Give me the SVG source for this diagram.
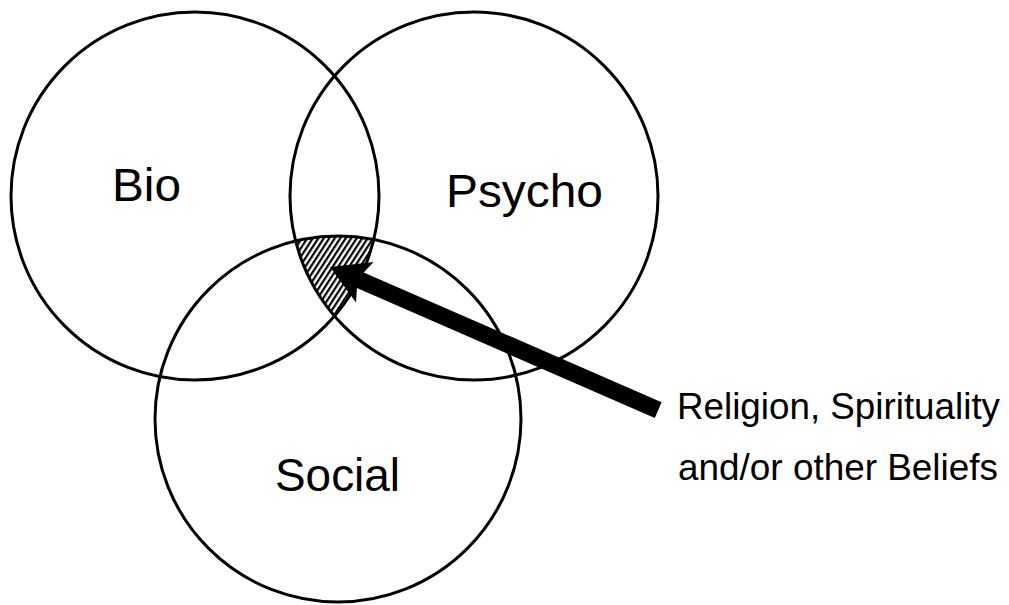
<svg xmlns="http://www.w3.org/2000/svg" width="1009" height="605" viewBox="0 0 1009 605">
  <style>
    .ring { fill: none; stroke: #000; stroke-width: 3; }
    .label { font-family: "Liberation Sans", Arial, sans-serif; fill: #000; }
    .big { font-size: 47px; }
    .note { font-size: 36.8px; }
  </style>
  <defs>
    <pattern id="hatch" patternUnits="userSpaceOnUse" width="4.6" height="4.6" patternTransform="rotate(33)">
      <rect width="4.6" height="4.6" fill="#fff"/>
      <rect width="2.2" height="4.6" fill="#000"/>
    </pattern>
    <clipPath id="clipBio"><circle cx="195" cy="196" r="184"/></clipPath>
    <clipPath id="clipPsycho"><circle cx="474" cy="196" r="184"/></clipPath>
  </defs>
  <rect width="1009" height="605" fill="#fff"/>

  <!-- shared region of all three circles -->
  <g id="overlap">
    <g clip-path="url(#clipBio)">
      <g clip-path="url(#clipPsycho)">
        <circle cx="338" cy="419" r="183" fill="url(#hatch)"/>
      </g>
    </g>
  </g>

  <g id="bio">
    <circle class="ring" cx="195" cy="196" r="184"/>
    <text class="label big" x="112" y="201" textLength="69" lengthAdjust="spacingAndGlyphs">Bio</text>
  </g>
  <g id="psycho">
    <circle class="ring" cx="474" cy="196" r="184"/>
    <text class="label big" x="446" y="207" textLength="157" lengthAdjust="spacingAndGlyphs">Psycho</text>
  </g>
  <g id="social">
    <circle class="ring" cx="338" cy="419" r="183"/>
    <text class="label big" x="275" y="491" textLength="125" lengthAdjust="spacingAndGlyphs">Social</text>
  </g>

  <g id="connectors">
    <polygon fill="#000" points="330,267 373.6,262 363.7,272.4 661.6,402.3 654.8,417.9 356.9,288 356,302.4"/>
  </g>

  <g id="beliefs">
    <text class="label note" x="677" y="419" textLength="323" lengthAdjust="spacingAndGlyphs">Religion, Spirituality</text>
    <text class="label note" x="678" y="480" textLength="320" lengthAdjust="spacingAndGlyphs">and/or other Beliefs</text>
  </g>
</svg>
